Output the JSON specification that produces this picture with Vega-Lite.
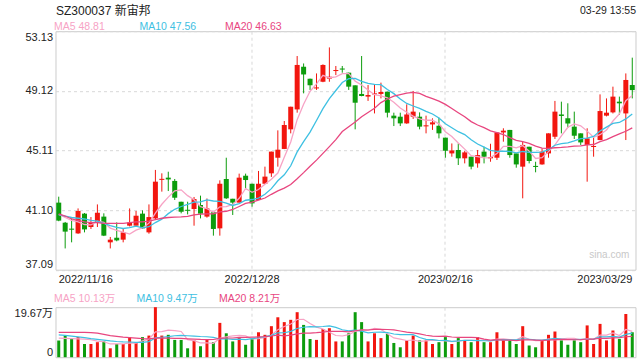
{
"$schema": "https://vega.github.io/schema/vega-lite/v6.json",
"padding": {"left": 12.5, "top": 3.2, "right": 4, "bottom": 2},
"background": "white",
"datasets": {"k": [
{"d":"2022/11/16","o":41.60,"h":42.00,"l":40.35,"c":40.39,"v":6.56,"m5":40.8,"m10":40.8,"m20":40.85,"vm5":7.5,"vm10":8.8,"vm20":9.8},
{"d":"2022/11/17","o":40.25,"h":40.30,"l":38.52,"c":39.65,"v":8.5,"m5":40.6,"m10":40.7,"m20":40.7,"vm5":7.4,"vm10":8.6,"vm20":9.8},
{"d":"2022/11/18","o":39.85,"h":40.54,"l":38.93,"c":39.78,"v":7.5,"m5":40.4,"m10":40.6,"m20":40.5,"vm5":7.3,"vm10":8.3,"vm20":9.8},
{"d":"2022/11/21","o":39.53,"h":41.21,"l":39.50,"c":41.04,"v":7.9,"m5":40.3,"m10":40.55,"m20":40.4,"vm5":7.2,"vm10":8.0,"vm20":9.8},
{"d":"2022/11/22","o":40.86,"h":40.90,"l":39.60,"c":39.80,"v":5.2,"m5":40.13,"m10":40.5,"m20":40.3,"vm5":7.13,"vm10":7.7,"vm20":9.8},
{"d":"2022/11/23","o":39.96,"h":40.63,"l":39.83,"c":40.25,"v":5.2,"m5":40.10,"m10":40.4,"m20":40.25,"vm5":6.86,"vm10":7.3,"vm20":9.7},
{"d":"2022/11/24","o":40.27,"h":41.48,"l":39.96,"c":40.92,"v":5.9,"m5":40.36,"m10":40.35,"m20":40.25,"vm5":6.34,"vm10":7.0,"vm20":9.5},
{"d":"2022/11/25","o":40.66,"h":40.88,"l":39.35,"c":39.38,"v":6.2,"m5":40.28,"m10":40.2,"m20":40.2,"vm5":6.08,"vm10":6.7,"vm20":9.0},
{"d":"2022/11/28","o":38.93,"h":39.29,"l":38.52,"c":39.11,"v":3.5,"m5":39.89,"m10":40.05,"m20":40.2,"vm5":5.20,"vm10":6.4,"vm20":8.5},
{"d":"2022/11/29","o":39.24,"h":40.27,"l":39.00,"c":39.06,"v":5.2,"m5":39.74,"m10":39.94,"m20":40.2,"vm5":5.20,"vm10":6.17,"vm20":8.2},
{"d":"2022/11/30","o":39.11,"h":39.83,"l":38.93,"c":39.60,"v":5.2,"m5":39.61,"m10":39.86,"m20":40.2,"vm5":5.20,"vm10":6.03,"vm20":7.9},
{"d":"2022/12/01","o":40.05,"h":41.21,"l":40.00,"c":40.27,"v":7.9,"m5":39.48,"m10":39.92,"m20":40.25,"vm5":5.60,"vm10":5.97,"vm20":7.7},
{"d":"2022/12/02","o":40.05,"h":41.04,"l":40.00,"c":40.72,"v":5.9,"m5":39.75,"m10":40.02,"m20":40.3,"vm5":5.54,"vm10":5.81,"vm20":7.5},
{"d":"2022/12/05","o":40.86,"h":41.08,"l":39.83,"c":39.87,"v":7.9,"m5":39.90,"m10":39.90,"m20":40.3,"vm5":6.42,"vm10":5.81,"vm20":7.3},
{"d":"2022/12/06","o":39.60,"h":41.48,"l":39.51,"c":40.63,"v":8.5,"m5":40.22,"m10":39.98,"m20":40.35,"vm5":7.08,"vm10":6.14,"vm20":7.2},
{"d":"2022/12/07","o":40.54,"h":43.80,"l":40.50,"c":43.01,"v":19.67,"m5":40.90,"m10":40.26,"m20":40.45,"vm5":9.97,"vm10":7.59,"vm20":7.5},
{"d":"2022/12/08","o":43.13,"h":43.57,"l":42.34,"c":43.20,"v":8.5,"m5":41.49,"m10":40.49,"m20":40.55,"vm5":10.09,"vm10":7.85,"vm20":7.5},
{"d":"2022/12/09","o":43.28,"h":43.68,"l":42.38,"c":43.16,"v":8.8,"m5":41.97,"m10":40.86,"m20":40.6,"vm5":10.67,"vm10":8.11,"vm20":7.5},
{"d":"2022/12/12","o":43.06,"h":43.19,"l":41.78,"c":41.93,"v":6.8,"m5":42.39,"m10":41.15,"m20":40.62,"vm5":10.45,"vm10":8.44,"vm20":7.4},
{"d":"2022/12/13","o":41.66,"h":41.66,"l":40.88,"c":40.99,"v":6.8,"m5":42.46,"m10":41.34,"m20":40.64,"vm5":10.11,"vm10":8.60,"vm20":7.38},
{"d":"2022/12/14","o":41.12,"h":41.66,"l":40.81,"c":41.05,"v":3.5,"m5":42.07,"m10":41.48,"m20":40.67,"vm5":6.88,"vm10":8.43,"vm20":7.23},
{"d":"2022/12/15","o":41.17,"h":41.98,"l":40.05,"c":41.84,"v":6.6,"m5":41.79,"m10":41.64,"m20":40.78,"vm5":6.50,"vm10":8.30,"vm20":7.13},
{"d":"2022/12/16","o":41.44,"h":42.07,"l":40.54,"c":40.86,"v":4.3,"m5":41.33,"m10":41.65,"m20":40.83,"vm5":5.60,"vm10":8.14,"vm20":6.97},
{"d":"2022/12/19","o":40.66,"h":41.88,"l":40.59,"c":41.21,"v":7.0,"m5":41.19,"m10":41.79,"m20":40.84,"vm5":5.64,"vm10":8.05,"vm20":6.93},
{"d":"2022/12/20","o":40.95,"h":40.95,"l":39.38,"c":39.83,"v":5.9,"m5":40.96,"m10":41.71,"m20":40.84,"vm5":5.46,"vm10":7.79,"vm20":6.96},
{"d":"2022/12/21","o":39.87,"h":43.10,"l":39.38,"c":42.87,"v":13.5,"m5":41.32,"m10":41.69,"m20":40.98,"vm5":7.46,"vm10":7.17,"vm20":7.38},
{"d":"2022/12/22","o":43.19,"h":44.62,"l":41.85,"c":41.89,"v":9.4,"m5":41.33,"m10":41.56,"m20":41.02,"vm5":8.02,"vm10":7.26,"vm20":7.55},
{"d":"2022/12/23","o":41.86,"h":41.86,"l":40.77,"c":41.60,"v":6.2,"m5":41.48,"m10":41.41,"m20":41.14,"vm5":8.40,"vm10":7.00,"vm20":7.55},
{"d":"2022/12/26","o":41.60,"h":43.55,"l":41.60,"c":43.28,"v":7.9,"m5":41.89,"m10":41.54,"m20":41.34,"vm5":8.58,"vm10":7.11,"vm20":7.77},
{"d":"2022/12/27","o":43.41,"h":43.55,"l":42.56,"c":43.12,"v":4.9,"m5":42.55,"m10":41.76,"m20":41.55,"vm5":8.38,"vm10":6.92,"vm20":7.76},
{"d":"2022/12/28","o":42.87,"h":42.87,"l":41.33,"c":41.55,"v":7.5,"m5":42.29,"m10":41.81,"m20":41.64,"vm5":7.18,"vm10":7.32,"vm20":7.87},
{"d":"2022/12/29","o":41.78,"h":43.73,"l":41.78,"c":42.87,"v":9.8,"m5":42.48,"m10":41.91,"m20":41.77,"vm5":7.26,"vm10":7.64,"vm20":7.97},
{"d":"2022/12/30","o":42.87,"h":44.02,"l":42.87,"c":43.35,"v":8.8,"m5":42.83,"m10":42.16,"m20":41.91,"vm5":7.78,"vm10":8.09,"vm20":8.11},
{"d":"2023/01/03","o":43.57,"h":45.03,"l":43.33,"c":45.03,"v":12.2,"m5":43.18,"m10":42.54,"m20":42.16,"vm5":8.64,"vm10":8.61,"vm20":8.33},
{"d":"2023/01/04","o":44.62,"h":46.46,"l":44.02,"c":45.16,"v":15.7,"m5":43.59,"m10":43.07,"m20":42.39,"vm5":10.80,"vm10":9.59,"vm20":8.69},
{"d":"2023/01/05","o":45.21,"h":47.09,"l":45.20,"c":46.82,"v":13.8,"m5":44.65,"m10":43.47,"m20":42.58,"vm5":12.06,"vm10":9.62,"vm20":8.40},
{"d":"2023/01/06","o":46.53,"h":48.05,"l":46.26,"c":48.05,"v":14.7,"m5":45.68,"m10":44.08,"m20":42.82,"vm5":13.04,"vm10":10.15,"vm20":8.71},
{"d":"2023/01/09","o":47.87,"h":51.46,"l":47.65,"c":50.86,"v":17.7,"m5":47.18,"m10":45.01,"m20":43.21,"vm5":14.82,"vm10":11.30,"vm20":9.15},
{"d":"2023/01/10","o":50.74,"h":50.96,"l":48.95,"c":50.22,"v":12.7,"m5":48.22,"m10":45.70,"m20":43.62,"vm5":14.92,"vm10":11.78,"vm20":9.45},
{"d":"2023/01/11","o":49.94,"h":49.94,"l":49.18,"c":49.49,"v":7.2,"m5":49.09,"m10":46.34,"m20":44.05,"vm5":13.22,"vm10":12.01,"vm20":9.47},
{"d":"2023/01/12","o":49.28,"h":50.29,"l":49.18,"c":49.35,"v":6.8,"m5":49.59,"m10":47.12,"m20":44.46,"vm5":11.82,"vm10":11.94,"vm20":9.63},
{"d":"2023/01/13","o":49.73,"h":50.90,"l":49.70,"c":50.86,"v":11.1,"m5":50.16,"m10":47.92,"m20":44.91,"vm5":11.10,"vm10":12.07,"vm20":9.86},
{"d":"2023/01/16","o":49.94,"h":52.04,"l":49.73,"c":50.07,"v":11.4,"m5":50.00,"m10":48.59,"m20":45.37,"vm5":9.84,"vm10":12.33,"vm20":10.21},
{"d":"2023/01/17","o":50.45,"h":50.79,"l":50.18,"c":50.52,"v":6.2,"m5":50.06,"m10":49.14,"m20":45.84,"vm5":8.54,"vm10":11.73,"vm20":10.17},
{"d":"2023/01/18","o":50.62,"h":50.79,"l":50.34,"c":50.55,"v":6.2,"m5":50.27,"m10":49.68,"m20":46.38,"vm5":8.34,"vm10":10.78,"vm20":10.19},
{"d":"2023/01/19","o":50.34,"h":50.34,"l":49.18,"c":49.40,"v":9.4,"m5":50.28,"m10":49.94,"m20":46.70,"vm5":8.86,"vm10":10.34,"vm20":9.98},
{"d":"2023/01/20","o":49.49,"h":49.49,"l":46.53,"c":48.32,"v":17.7,"m5":49.77,"m10":49.96,"m20":47.02,"vm5":10.18,"vm10":10.64,"vm20":10.40},
{"d":"2023/01/30","o":48.91,"h":51.46,"l":48.75,"c":48.77,"v":13.8,"m5":49.51,"m10":49.76,"m20":47.38,"vm5":10.66,"vm10":10.25,"vm20":10.78},
{"d":"2023/01/31","o":48.73,"h":49.51,"l":48.44,"c":48.84,"v":6.2,"m5":49.18,"m10":49.62,"m20":47.66,"vm5":10.66,"vm10":9.60,"vm20":10.69},
{"d":"2023/02/01","o":48.88,"h":49.55,"l":47.60,"c":48.95,"v":9.4,"m5":48.86,"m10":49.56,"m20":47.95,"vm5":11.30,"vm10":9.82,"vm20":10.92},
{"d":"2023/02/02","o":48.91,"h":49.67,"l":48.61,"c":49.04,"v":7.5,"m5":48.78,"m10":49.53,"m20":48.33,"vm5":10.92,"vm10":9.89,"vm20":10.92},
{"d":"2023/02/03","o":49.06,"h":49.06,"l":47.33,"c":47.65,"v":9.2,"m5":48.65,"m10":49.21,"m20":48.57,"vm5":9.22,"vm10":9.70,"vm20":10.89},
{"d":"2023/02/06","o":47.45,"h":47.65,"l":46.75,"c":47.27,"v":5.6,"m5":48.35,"m10":48.93,"m20":48.76,"vm5":7.58,"vm10":9.12,"vm20":10.73},
{"d":"2023/02/07","o":47.38,"h":47.65,"l":46.75,"c":46.93,"v":3.9,"m5":47.97,"m10":48.57,"m20":48.86,"vm5":7.12,"vm10":8.89,"vm20":10.31},
{"d":"2023/02/08","o":46.93,"h":48.21,"l":46.90,"c":47.53,"v":6.6,"m5":47.68,"m10":48.27,"m20":48.97,"vm5":6.56,"vm10":8.93,"vm20":9.86},
{"d":"2023/02/09","o":47.38,"h":49.11,"l":47.23,"c":47.72,"v":8.5,"m5":47.42,"m10":48.10,"m20":49.02,"vm5":6.76,"vm10":8.84,"vm20":9.59},
{"d":"2023/02/10","o":47.38,"h":47.67,"l":46.53,"c":46.71,"v":6.6,"m5":47.23,"m10":47.94,"m20":48.95,"vm5":6.24,"vm10":7.73,"vm20":9.19},
{"d":"2023/02/13","o":46.73,"h":47.45,"l":46.26,"c":46.80,"v":6.6,"m5":47.14,"m10":47.74,"m20":48.75,"vm5":6.44,"vm10":7.01,"vm20":8.63},
{"d":"2023/02/14","o":46.86,"h":47.27,"l":46.49,"c":47.00,"v":5.2,"m5":47.15,"m10":47.56,"m20":48.59,"vm5":6.70,"vm10":6.91,"vm20":8.26},
{"d":"2023/02/15","o":46.77,"h":47.31,"l":45.92,"c":46.26,"v":5.9,"m5":46.90,"m10":47.29,"m20":48.43,"vm5":6.56,"vm10":6.56,"vm20":8.19},
{"d":"2023/02/16","o":45.97,"h":45.97,"l":44.62,"c":45.09,"v":7.9,"m5":46.37,"m10":46.90,"m20":48.21,"vm5":6.44,"vm10":6.60,"vm20":8.25},
{"d":"2023/02/17","o":44.91,"h":45.58,"l":44.69,"c":45.11,"v":5.2,"m5":46.05,"m10":46.64,"m20":47.93,"vm5":6.16,"vm10":6.20,"vm20":7.95},
{"d":"2023/02/20","o":45.14,"h":45.58,"l":44.13,"c":44.58,"v":7.5,"m5":45.61,"m10":46.37,"m20":47.65,"vm5":6.34,"vm10":6.39,"vm20":7.76},
{"d":"2023/02/21","o":44.58,"h":45.07,"l":44.24,"c":44.98,"v":6.6,"m5":45.20,"m10":46.18,"m20":47.38,"vm5":6.62,"vm10":6.66,"vm20":7.78},
{"d":"2023/02/22","o":44.69,"h":44.69,"l":43.84,"c":44.02,"v":5.9,"m5":44.76,"m10":45.83,"m20":47.05,"vm5":6.62,"vm10":6.59,"vm20":7.76},
{"d":"2023/02/23","o":44.24,"h":45.14,"l":43.95,"c":44.80,"v":7.9,"m5":44.70,"m10":45.54,"m20":46.82,"vm5":6.62,"vm10":6.53,"vm20":7.69},
{"d":"2023/02/24","o":45.03,"h":45.36,"l":44.24,"c":44.69,"v":5.9,"m5":44.61,"m10":45.33,"m20":46.64,"vm5":6.76,"vm10":6.46,"vm20":7.10},
{"d":"2023/02/27","o":44.58,"h":45.56,"l":44.35,"c":44.67,"v":5.9,"m5":44.63,"m10":45.12,"m20":46.43,"vm5":6.44,"vm10":6.39,"vm20":6.70},
{"d":"2023/02/28","o":44.62,"h":46.32,"l":44.47,"c":46.32,"v":9.8,"m5":44.90,"m10":45.05,"m20":46.31,"vm5":7.08,"vm10":6.85,"vm20":6.88},
{"d":"2023/03/01","o":46.32,"h":46.60,"l":45.70,"c":46.44,"v":6.6,"m5":45.38,"m10":45.07,"m20":46.18,"vm5":7.22,"vm10":6.92,"vm20":6.74},
{"d":"2023/03/02","o":46.49,"h":46.49,"l":44.62,"c":44.80,"v":6.6,"m5":45.38,"m10":45.04,"m20":45.97,"vm5":6.96,"vm10":6.79,"vm20":6.70},
{"d":"2023/03/03","o":44.91,"h":44.91,"l":43.95,"c":44.17,"v":5.2,"m5":45.28,"m10":44.95,"m20":45.79,"vm5":6.82,"vm10":6.79,"vm20":6.50},
{"d":"2023/03/06","o":44.02,"h":45.70,"l":41.89,"c":45.48,"v":12.2,"m5":45.44,"m10":45.04,"m20":45.71,"vm5":8.08,"vm10":7.26,"vm20":6.83},
{"d":"2023/03/07","o":45.36,"h":45.36,"l":44.24,"c":44.40,"v":4.6,"m5":45.06,"m10":44.98,"m20":45.58,"vm5":7.04,"vm10":7.06,"vm20":6.86},
{"d":"2023/03/08","o":44.07,"h":44.35,"l":43.64,"c":44.00,"v":3.9,"m5":44.57,"m10":44.98,"m20":45.40,"vm5":6.50,"vm10":6.86,"vm20":6.73},
{"d":"2023/03/09","o":44.17,"h":45.25,"l":44.15,"c":45.03,"v":6.6,"m5":44.62,"m10":45.00,"m20":45.27,"vm5":6.50,"vm10":6.73,"vm20":6.63},
{"d":"2023/03/10","o":44.91,"h":46.26,"l":44.62,"c":46.26,"v":8.8,"m5":45.03,"m10":45.16,"m20":45.25,"vm5":7.22,"vm10":7.02,"vm20":6.74},
{"d":"2023/03/13","o":46.03,"h":48.44,"l":45.88,"c":47.72,"v":10.1,"m5":45.48,"m10":45.46,"m20":45.29,"vm5":6.80,"vm10":7.44,"vm20":6.92},
{"d":"2023/03/14","o":47.53,"h":48.39,"l":46.26,"c":47.43,"v":6.6,"m5":46.09,"m10":45.57,"m20":45.31,"vm5":7.20,"vm10":7.12,"vm20":6.99},
{"d":"2023/03/15","o":47.27,"h":48.28,"l":46.64,"c":46.93,"v":4.9,"m5":46.67,"m10":45.62,"m20":45.35,"vm5":7.40,"vm10":6.95,"vm20":6.94},
{"d":"2023/03/16","o":46.71,"h":47.72,"l":45.88,"c":46.10,"v":6.6,"m5":46.89,"m10":45.75,"m20":45.40,"vm5":7.40,"vm10":6.95,"vm20":6.87},
{"d":"2023/03/17","o":46.26,"h":46.26,"l":45.48,"c":45.65,"v":5.9,"m5":46.77,"m10":45.90,"m20":45.42,"vm5":6.82,"vm10":7.02,"vm20":6.91},
{"d":"2023/03/20","o":45.48,"h":46.60,"l":43.01,"c":45.92,"v":12.5,"m5":46.41,"m10":45.94,"m20":45.49,"vm5":7.30,"vm10":7.05,"vm20":7.16},
{"d":"2023/03/21","o":45.34,"h":45.97,"l":44.69,"c":45.41,"v":5.2,"m5":46.00,"m10":46.05,"m20":45.51,"vm5":7.02,"vm10":7.11,"vm20":7.09},
{"d":"2023/03/22","o":45.81,"h":48.88,"l":45.80,"c":47.76,"v":13.1,"m5":46.17,"m10":46.42,"m20":45.70,"vm5":8.66,"vm10":8.03,"vm20":7.45},
{"d":"2023/03/23","o":47.45,"h":48.61,"l":47.40,"c":47.65,"v":6.6,"m5":46.48,"m10":46.68,"m20":45.84,"vm5":8.66,"vm10":8.03,"vm20":7.38},
{"d":"2023/03/24","o":47.67,"h":49.40,"l":47.60,"c":48.73,"v":10.5,"m5":47.09,"m10":46.93,"m20":46.04,"vm5":9.58,"vm10":8.20,"vm20":7.61},
{"d":"2023/03/27","o":48.39,"h":48.73,"l":47.50,"c":48.28,"v":7.2,"m5":47.57,"m10":46.99,"m20":46.22,"vm5":8.52,"vm10":7.91,"vm20":7.68},
{"d":"2023/03/28","o":47.60,"h":50.29,"l":45.81,"c":49.85,"v":17.0,"m5":48.45,"m10":47.23,"m20":46.40,"vm5":10.88,"vm10":8.95,"vm20":8.04},
{"d":"2023/03/29","o":49.51,"h":51.35,"l":48.61,"c":49.17,"v":9.8,"m5":48.81,"m10":47.56,"m20":46.63,"vm5":10.13,"vm10":9.47,"vm20":8.21}
]},
"data": {"name": "k"},
"spacing": 37,
"bounds": "flush",
"resolve": {"scale": {"color": "independent"}, "legend": {"color": "independent"}},
"vconcat": [
{
"width": 580, "height": 238.5,
"encoding": {"x": {"field": "d", "type": "ordinal", "scale": {"paddingInner": 0, "paddingOuter": 0},
  "axis": {"values": ["2022/11/16","2022/12/28","2023/02/16","2023/03/29"], "labelAngle": 0, "labelFlush": 8, "labelPadding": 4, "ticks": false, "domain": false, "grid": true, "gridDash": [3,3], "gridColor": "#d8d8d8",
    "gridOpacity": {"condition": {"test": "datum.value == '2022/11/16' || datum.value == '2023/03/29'", "value": 0}, "value": 1},
    "labelFontSize": 11, "labelColor": "#222",
    "title": "SZ300037 新宙邦", "titleX": 0, "titleY": -255.3, "titleAlign": "left", "titleAnchor": "start", "titleBaseline": "alphabetic", "titleFontSize": 12, "titleFontWeight": "normal", "titleColor": "#222"}}},
"layer": [
 {"mark": {"type": "rule", "strokeWidth": 1},
  "encoding": {
   "y": {"field": "l", "type": "quantitative", "scale": {"domain": [37.09, 53.13], "nice": false, "zero": false},
     "axis": {"values": [37.09, 41.10, 45.11, 49.12, 53.13], "format": ".2f", "ticks": false, "domain": false, "labelFlush": true, "labelPadding": 3, "grid": true, "gridDash": [3,3], "gridColor": "#d8d8d8", "labelFontSize": 11, "labelColor": "#222",
       "title": "03-29 13:55", "titleAngle": 0, "titleX": 580, "titleY": -18, "titleAlign": "right", "titleAnchor": "end", "titleBaseline": "alphabetic", "titleFontSize": 10.5, "titleFontWeight": "normal", "titleColor": "#222"}},
   "y2": {"field": "h"},
   "color": {"condition": {"test": "datum.c >= datum.o", "value": "#f2160f"}, "value": "#0c9c0c"}}},
 {"mark": {"type": "bar", "size": 5},
  "encoding": {
   "y": {"field": "o", "type": "quantitative"},
   "y2": {"field": "c"},
   "color": {"condition": {"test": "datum.c >= datum.o", "value": "#f2160f"}, "value": "#0c9c0c"}}},
 {"transform": [{"fold": ["m5","m10","m20"], "as": ["s","val"]}],
  "mark": {"type": "line", "strokeWidth": 1.3},
  "encoding": {
   "y": {"field": "val", "type": "quantitative"},
   "color": {"field": "s", "type": "nominal", "scale": {"domain": ["m5","m10","m20"], "range": ["#f7a3c5","#3ec0e2","#e8467f"]},
     "legend": {"orient": "none", "legendX": -12, "legendY": -10, "direction": "horizontal", "title": null, "symbolSize": 0, "symbolStrokeWidth": 0, "symbolOpacity": 0, "labelOffset": 0, "labelFontSize": 10.5, "gridAlign": "all", "columnPadding": 17.5, "padding": 0,
       "labelExpr": "datum.value == 'm5' ? 'MA5 48.81' : datum.value == 'm10' ? 'MA10 47.56' : 'MA20 46.63'",
       "labelColor": {"expr": "datum.value == 'm5' ? '#f7a3c5' : datum.value == 'm10' ? '#3ec0e2' : '#e8467f'"}}}}},
 {"data": {"values": [{}]},
  "mark": {"type": "text", "align": "right", "baseline": "middle", "dx": -3, "fontSize": 10, "color": "#c8c8c8"},
  "encoding": {"x": {"datum": "2023/03/29"}, "y": {"datum": 38.1}, "text": {"value": "sina.com"}}}
]
},
{
"width": 580, "height": 50,
"encoding": {"x": {"field": "d", "type": "ordinal", "scale": {"paddingInner": 0, "paddingOuter": 0},
  "axis": {"values": ["2022/12/28","2023/02/16"], "labels": false, "ticks": false, "domain": false, "title": null, "grid": true, "gridDash": [3,3], "gridColor": "#d8d8d8"}}},
"layer": [
 {"mark": {"type": "bar", "size": 3},
  "encoding": {
   "y": {"field": "v", "type": "quantitative", "scale": {"domain": [0, 19.67], "nice": false},
     "axis": {"values": [0, 19.67], "labelExpr": "datum.value == 0 ? '0' : '19.67万'", "title": null, "ticks": false, "domain": false, "grid": false, "labelFlush": true, "labelPadding": 3, "labelFontSize": 11, "labelColor": "#222"}},
   "color": {"condition": {"test": "datum.c >= datum.o", "value": "#f2160f"}, "value": "#0c9c0c"}}},
 {"transform": [{"fold": ["vm5","vm10","vm20"], "as": ["s","val"]}],
  "mark": {"type": "line", "strokeWidth": 1.2},
  "encoding": {
   "y": {"field": "val", "type": "quantitative"},
   "color": {"field": "s", "type": "nominal", "scale": {"domain": ["vm5","vm10","vm20"], "range": ["#f7a3c5","#3ec0e2","#e8467f"]},
     "legend": {"orient": "none", "legendX": -12, "legendY": -13.5, "direction": "horizontal", "title": null, "symbolSize": 0, "symbolStrokeWidth": 0, "symbolOpacity": 0, "labelOffset": 0, "labelFontSize": 10.5, "gridAlign": "all", "columnPadding": 10.5, "padding": 0,
       "labelExpr": "datum.value == 'vm5' ? 'MA5 10.13万' : datum.value == 'vm10' ? 'MA10 9.47万' : 'MA20 8.21万'",
       "labelColor": {"expr": "datum.value == 'vm5' ? '#f7a3c5' : datum.value == 'vm10' ? '#3ec0e2' : '#e8467f'"}}}}}
]
}
],
"config": {
 "font": "Liberation Sans, Noto Sans CJK SC",
 "view": {"stroke": "#cccccc", "strokeWidth": 1},
 "axis": {"labelFont": "Liberation Sans, Noto Sans CJK SC", "titleFont": "Liberation Sans, Noto Sans CJK SC"},
 "legend": {"labelFont": "Liberation Sans, Noto Sans CJK SC"}
}
}
